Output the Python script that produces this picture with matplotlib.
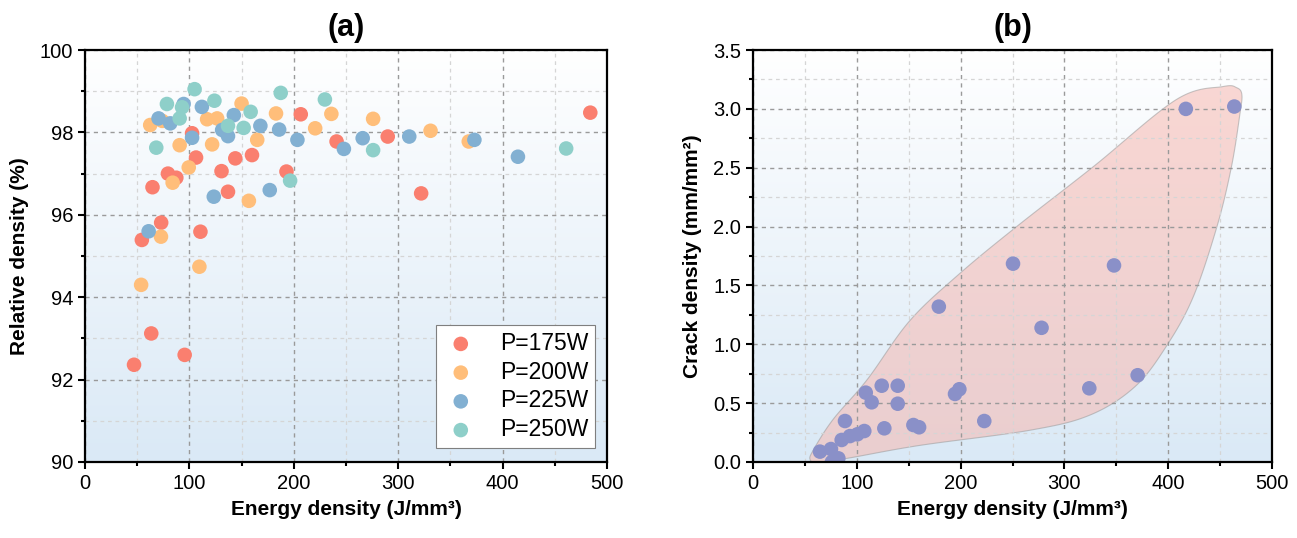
import numpy as np
from matplotlib import pyplot as plt
from matplotlib.colors import LinearSegmentedColormap
from matplotlib.ticker import MultipleLocator

plt.rcParams["font.family"] = ["Liberation Sans", "DejaVu Sans"]

# (a) relative density vs energy density, one series per laser power
labels = ["P=175W", "P=200W", "P=225W", "P=250W"]
colors = ["#FA7F6F", "#FFBE7A", "#82B0D2", "#8ECFC9"]

e_175 = [47, 54.5, 63.5, 64.7, 73, 79.5, 87.5, 95.5, 102.6, 106.4, 110.6, 130.8,
         137, 144, 160, 193, 206.7, 241, 290, 322, 484]
rd_175 = [92.36, 95.39, 93.12, 96.67, 95.81, 97.0, 96.9, 92.6, 97.98, 97.39, 95.59,
          97.06, 96.56, 97.37, 97.45, 97.05, 98.44, 97.78, 97.9, 96.52, 98.48]

e_200 = [53.8, 62.5, 72.8, 74, 84, 90.7, 99.4, 109.6, 117, 121.8, 126.6, 150, 157,
         165, 183, 220.5, 236, 276, 331, 367.6]
rd_200 = [94.3, 98.18, 95.47, 98.28, 96.78, 97.69, 97.15, 94.74, 98.32, 97.71, 98.34,
          98.7, 96.34, 97.82, 98.46, 98.1, 98.45, 98.33, 98.04, 97.78]

e_225 = [61, 70.5, 81.7, 94.5, 102.6, 112, 123.4, 131.4, 137, 142.6, 168, 177, 186,
         203.5, 248, 266, 310.6, 373, 414.7]
rd_225 = [95.6, 98.34, 98.22, 98.69, 97.87, 98.62, 96.44, 98.06, 97.91, 98.42, 98.16,
          96.6, 98.07, 97.82, 97.6, 97.86, 97.9, 97.82, 97.41]

e_250 = [68.3, 78.5, 90.7, 93, 105, 124, 137, 152, 158.7, 187.5, 196.5, 229.8, 276,
         460.9]
rd_250 = [97.63, 98.69, 98.34, 98.61, 99.05, 98.77, 98.16, 98.11, 98.5, 98.96, 96.83,
          98.8, 97.57, 97.61]

# (b) crack density vs energy density
e_crack = [463.7, 417, 250.5, 347.8, 179, 278, 370.6, 324, 198.8, 194.6, 124, 139.4,
           108.6, 114.3, 139.4, 222.8, 154.5, 160, 126.5, 88.6, 107.2, 100.5, 93.4,
           85.4, 64.5, 75.1, 82.2, 76]
crack = [3.02, 3.0, 1.685, 1.67, 1.32, 1.14, 0.737, 0.626, 0.618, 0.578, 0.648, 0.648,
         0.589, 0.507, 0.495, 0.348, 0.314, 0.295, 0.286, 0.348, 0.263, 0.235, 0.22,
         0.187, 0.088, 0.11, 0.031, 0.0]

# outline of the shaded region in (b)
hull_x = [62, 90, 160, 267, 325, 368, 398, 424, 447, 461, 469, 471, 466, 453, 408,
          328, 254, 199, 151, 110, 77, 58, 55]
hull_y = [0.0, 0.03, 0.14, 0.27, 0.40, 0.64, 0.98, 1.40, 2.0, 2.51, 2.95, 3.12, 3.18,
          3.19, 3.08, 2.51, 2.0, 1.6, 1.2, 0.70, 0.36, 0.10, 0.02]


def closed_spline(x, y, n=30):
    pts = np.column_stack([x, y]).astype(float)
    m = len(pts)
    out = []
    for i in range(m):
        p0, p1, p2, p3 = pts[i - 1], pts[i], pts[(i + 1) % m], pts[(i + 2) % m]
        t = np.linspace(0, 1, n, endpoint=False)[:, None]
        out.append(0.5 * ((2 * p1) + (-p0 + p2) * t + (2 * p0 - 5 * p1 + 4 * p2 - p3) * t ** 2
                          + (-p0 + 3 * p1 - 3 * p2 + p3) * t ** 3))
    out = np.vstack(out)
    return out[:, 0], out[:, 1]


bg = LinearSegmentedColormap.from_list("bg", ["#DAE9F6", "#FFFFFF"])


def style_axes(ax):
    grad = np.linspace(0, 1, 256)[:, None]
    ax.imshow(grad, extent=[0, 1, 0, 1], transform=ax.transAxes, origin="lower",
              aspect="auto", cmap=bg, zorder=0)
    ax.grid(True, which="major", linestyle=(0, (3, 3)), color="#9A9A9A", linewidth=1, zorder=1)
    ax.grid(True, which="minor", linestyle=(0, (3, 3)), color="#D5D5D5", linewidth=0.9, zorder=1)
    for s in ax.spines.values():
        s.set_linewidth(1.6)
        s.set_zorder(5)
    ax.tick_params(which="major", direction="out", length=5, width=1.5, labelsize=14.5)
    ax.tick_params(which="minor", direction="out", length=3, width=1.5)
    ax.set_axisbelow(False)


fig = plt.figure(figsize=(12.97, 5.38), dpi=100)
ax1 = fig.add_axes([0.0655, 0.1413, 0.4025, 0.7657])
ax2 = fig.add_axes([0.5806, 0.1413, 0.4001, 0.7657])

style_axes(ax1)
series = [(e_175, rd_175), (e_200, rd_200), (e_225, rd_225), (e_250, rd_250)]
for (ex, ry), col, lab in zip(series, colors, labels):
    ax1.scatter(ex, ry, s=110, color=col, edgecolors="none", label=lab, zorder=3)
ax1.set_xlim(0, 500)
ax1.set_ylim(90, 100)
ax1.xaxis.set_major_locator(MultipleLocator(100))
ax1.xaxis.set_minor_locator(MultipleLocator(50))
ax1.yaxis.set_major_locator(MultipleLocator(2))
ax1.yaxis.set_minor_locator(MultipleLocator(1))
ax1.set_xlabel("Energy density (J/mm³)", fontsize=15, fontweight="bold", labelpad=5)
ax1.set_ylabel("Relative density (%)", fontsize=15, fontweight="bold", labelpad=8)
ax1.set_title("(a)", fontsize=22, fontweight="bold", pad=10)
leg = ax1.legend(loc="lower right", bbox_to_anchor=(0.977, 0.034), borderaxespad=0,
                 fontsize=16.5, frameon=True, fancybox=False, framealpha=1,
                 edgecolor="#7F7F7F", handletextpad=0.9, labelspacing=0.25,
                 borderpad=0.3, handlelength=1.6, markerscale=1.0)
leg.get_frame().set_linewidth(0.8)
leg.set_zorder(6)

style_axes(ax2)
hx, hy = closed_spline(hull_x, hull_y)
ax2.fill(hx, hy, facecolor="#F7B8B0", alpha=0.55, edgecolor="#9A9A9A", linewidth=0.8, zorder=2)
ax2.scatter(e_crack, crack, s=110, color="#8A90C8", edgecolors="none", zorder=3)
ax2.set_xlim(0, 500)
ax2.set_ylim(0, 3.5)
ax2.xaxis.set_major_locator(MultipleLocator(100))
ax2.xaxis.set_minor_locator(MultipleLocator(50))
ax2.yaxis.set_major_locator(MultipleLocator(0.5))
ax2.yaxis.set_minor_locator(MultipleLocator(0.25))
ax2.yaxis.set_major_formatter(plt.FormatStrFormatter("%.1f"))
ax2.set_xlabel("Energy density (J/mm³)", fontsize=15, fontweight="bold", labelpad=5)
ax2.set_ylabel("Crack density (mm/mm²)", fontsize=15, fontweight="bold", labelpad=8)
ax2.set_title("(b)", fontsize=22, fontweight="bold", pad=10)

fig.savefig("out.png", dpi=100)
